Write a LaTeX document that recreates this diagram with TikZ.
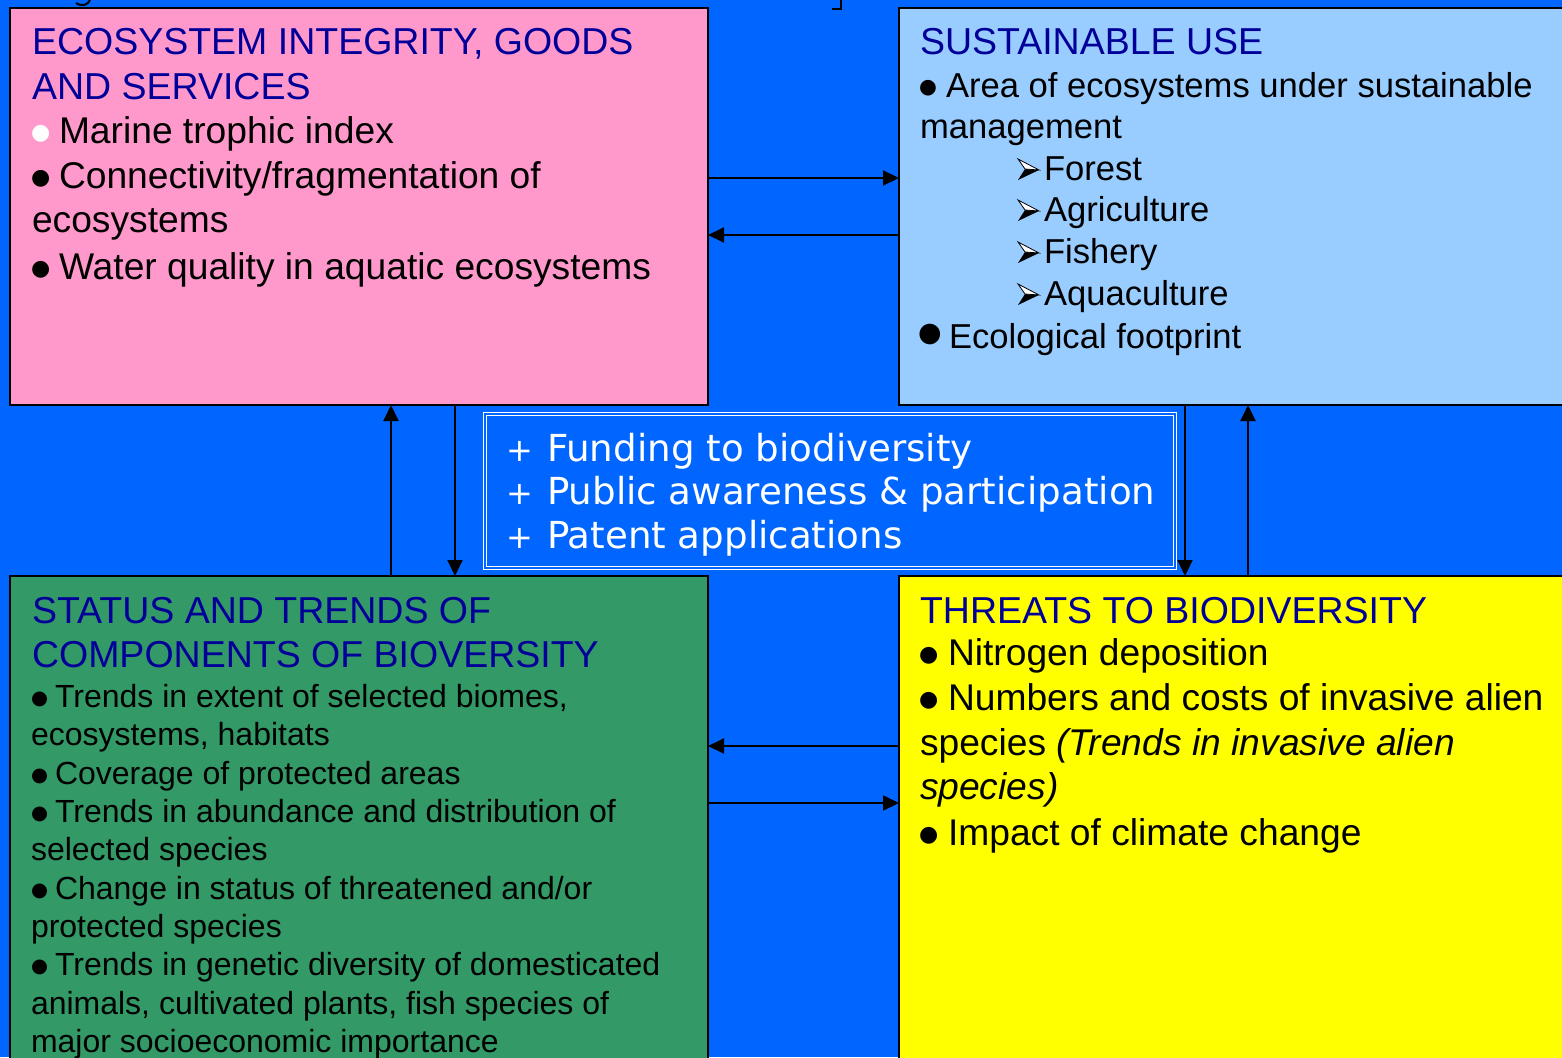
\documentclass[tikz,border=0pt]{standalone}
\usepackage{fontspec}
\setmainfont{Liberation Sans}
\newfontfamily\dvsans{DejaVu Sans}
\usetikzlibrary{arrows.meta}
\definecolor{bgblue}{HTML}{0066FF}
\definecolor{pinkc}{HTML}{FF99CC}
\definecolor{lblue}{HTML}{99CCFF}
\definecolor{greenc}{HTML}{339966}
\definecolor{yellowc}{HTML}{FFFF00}
\definecolor{headblue}{HTML}{000099}
% bullet: [colour]{box width}{bullet font size}
\newcommand\bulx[3][black]{\makebox[#2][l]{\raisebox{0.09em}{\textcolor{#1}{\dvsans\fontsize{#3}{#3}\selectfont ●}}}}
\begin{document}
\begin{tikzpicture}[x=1pt,y=-1pt,
  box/.style={draw=black,line width=2.5pt,anchor=north west,inner sep=0pt,outer sep=0pt},
  arr/.style={line width=2pt,-{Triangle[length=16pt,width=15pt]}},
  hd/.style={anchor=base west,inner sep=0pt,outer sep=0pt,text=headblue,font=\fontsize{37.5}{44}\selectfont},
  bd/.style={anchor=base west,inner sep=0pt,outer sep=0pt,text=black,font=\fontsize{37.2}{44}\selectfont},
  sd/.style={anchor=base west,inner sep=0pt,outer sep=0pt,text=black,font=\fontsize{34.6}{41}\selectfont},
  gd/.style={anchor=base west,inner sep=0pt,outer sep=0pt,text=black,font=\fontsize{32}{38}\selectfont},
  md/.style={anchor=base west,inner sep=0pt,outer sep=0pt,text=white,font=\dvsans\fontsize{37.2}{44}\selectfont},
  arrowbul/.pic={
    \fill[black] (7,0) -- (21,1) -- (0,11) -- cycle;
    \filldraw[fill=white,draw=black,line width=0.8pt,line join=miter] (0,-10) -- (21,1) -- (7,0) -- cycle;
  }]
\useasboundingbox (0,0) rectangle (1562,1057);
\clip (0,0) rectangle (1562,1057);
\fill[bgblue] (0,0) rectangle (1562,1057);
% fragments of cut-off title
\draw[line width=2pt] (832,9) -- (841,9) -- (841,0);
\draw[line width=2pt] (76,3) .. controls (82,7) and (88,5) .. (90,0);
% boxes
\node[box,fill=pinkc,minimum width=698pt,minimum height=397pt] (eco) at (10,8) {};
\node[box,fill=lblue,minimum width=700pt,minimum height=397pt] (sus) at (899,8) {};
\node[box,fill=greenc,minimum width=698pt,minimum height=520pt] (sta) at (10,576) {};
\node[box,fill=yellowc,minimum width=700pt,minimum height=520pt] (thr) at (899,576) {};
\node[draw=white,double=bgblue,double distance=1.6pt,line width=1.1pt,anchor=north west,
      inner sep=0pt,outer sep=0pt,minimum width=690pt,minimum height=154pt] (mid) at (485,414) {};
% connectors
\draw[arr] (eco.east |- 0,178) -- (sus.west |- 0,178);
\draw[arr] (sus.west |- 0,235) -- (eco.east |- 0,235);
\draw[arr] (sta.north -| 391,0) -- (eco.south -| 391,0);
\draw[arr] (eco.south -| 455,0) -- (sta.north -| 455,0);
\draw[arr] (sus.south -| 1185,0) -- (thr.north -| 1185,0);
\draw[arr] (thr.north -| 1248,0) -- (sus.south -| 1248,0);
\draw[arr] (thr.west |- 0,746) -- (sta.east |- 0,746);
\draw[arr] (sta.east |- 0,803) -- (thr.west |- 0,803);
% ecosystem integrity
\node[hd] (ecoh1) at (32,55) {ECOSYSTEM INTEGRITY, GOODS};
\node[hd] (ecoh2) at (32,99) {AND SERVICES};
\node[bd] (ecob1) at (31,143) {\bulx[white]{28pt}{22pt}Marine trophic index};
\node[bd] (ecob2) at (31,188) {\bulx{28pt}{22pt}Connectivity/fragmentation of};
\node[bd] (ecob3) at (32,232) {ecosystems};
\node[bd] (ecob4) at (31,279) {\bulx{28pt}{22pt}Water quality in aquatic ecosystems};
% sustainable use
\node[hd] (sush) at (920,55) {SUSTAINABLE USE};
\node[sd] (susb1) at (919,97) {\bulx{27pt}{20.5pt}Area of ecosystems under sustainable};
\node[sd] (susb2) at (920,138) {management};
\foreach \yy/\txt [count=\i] in {180/Forest,221/Agriculture,263/Fishery,305/Aquaculture}{
  \pic at (1018,\yy-11) {arrowbul};
  \node[sd] (sussub\i) at (1044,\yy) {\txt};
}
\node[anchor=base west,inner sep=0pt,font=\dvsans\fontsize{27}{27}\selectfont] (susdot) at (918,341) {●};
\node[sd] (susb3) at (949,348) {Ecological footprint};
% status and trends
\node[hd] (stah1) at (32,623) {STATUS AND TRENDS OF};
\node[hd] (stah2) at (32,667) {COMPONENTS OF BIOVERSITY};
\foreach \yy/\txt [count=\i] in {
  707/{\bulx{24pt}{19.5pt}Trends in extent of selected biomes,},
  745/{ecosystems, habitats},
  784/{\bulx{24pt}{19.5pt}Coverage of protected areas},
  822/{\bulx{24pt}{19.5pt}Trends in abundance and distribution of},
  860/{selected species},
  899/{\bulx{24pt}{19.5pt}Change in status of threatened and/or},
  937/{protected species},
  975/{\bulx{24pt}{19.5pt}Trends in genetic diversity of domesticated},
  1014/{animals, cultivated plants, fish species of},
  1052/{major socioeconomic importance}}{
  \node[gd] (stab\i) at (31,\yy) {\txt};
}
% threats
\node[hd] (thrh) at (920,623) {THREATS TO BIODIVERSITY};
\node[bd] (thrb1) at (919,665) {\bulx{29pt}{22pt}Nitrogen deposition};
\node[bd] (thrb2) at (919,710) {\bulx{29pt}{22pt}Numbers and costs of invasive alien};
\node[bd] (thrb3) at (920,755) {species \textit{(Trends in invasive alien}};
\node[bd] (thrb4) at (920,799) {\textit{species)}};
\node[bd] (thrb5) at (919,845) {\bulx{29pt}{22pt}Impact of climate change};
% middle box
\foreach \yy/\txt [count=\i] in {461/Funding to biodiversity,504/Public awareness \& participation,548/Patent applications}{
  \node[md,font=\dvsans\fontsize{32}{44}\selectfont] (midp\i) at (506,\yy) {+};
  \node[md] (midt\i) at (547,\yy) {\txt};
}
\end{tikzpicture}
\end{document}
